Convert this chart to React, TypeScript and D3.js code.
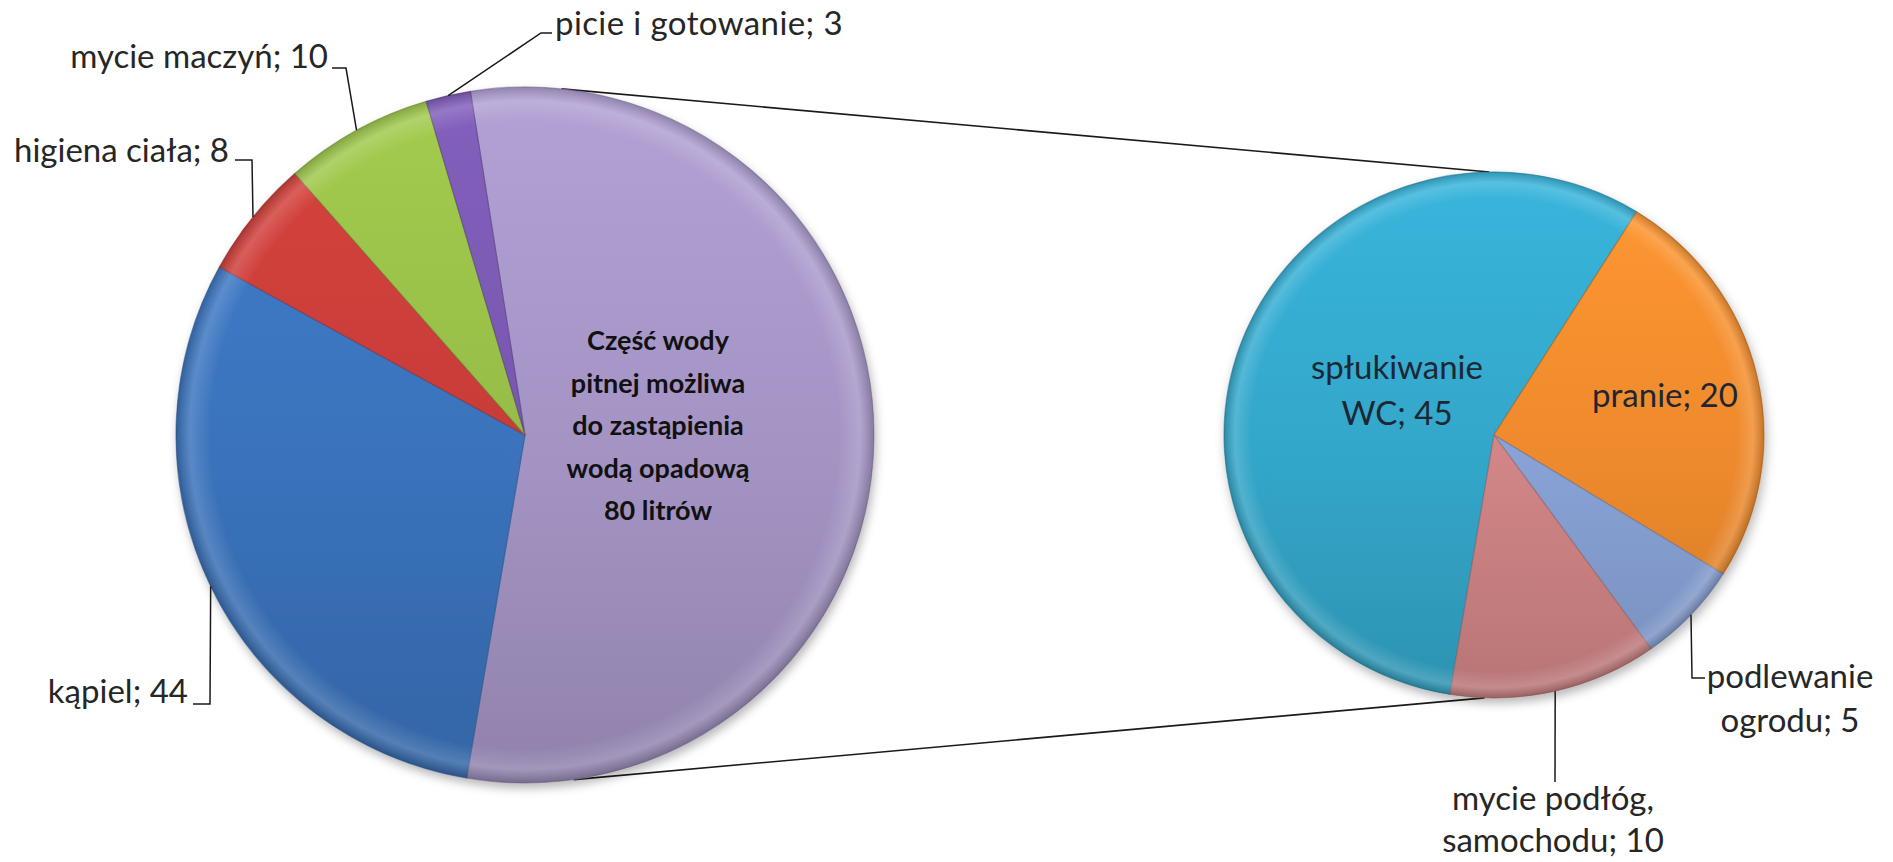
import React from "react";
import * as d3 from "d3";

// ---------- data ----------
const mainCategories = [
  "Część wody pitnej możliwa do zastąpienia wodą opadową",
  "kąpiel",
  "higiena ciała",
  "mycie maczyń",
  "picie i gotowanie",
];
const mainValues = [80, 44, 8, 10, 3];
const otherLabelLines = ["Część wody", "pitnej możliwa", "do zastąpienia", "wodą opadową", "80 litrów"];

const secondaryCategories = ["spłukiwanie\nWC", "pranie", "podlewanie\nogrodu", "mycie podłóg,\nsamochodu"];
const secondaryValues = [45, 20, 5, 10];

// ---------- styles ----------
const mainColors = ["#a393c3", "#3a72bb", "#c63c38", "#95bb47", "#7757ad"];
const secondaryColors = ["#33a6c9", "#ee8a2d", "#88a2d6", "#d18586"];

const W = 1893;
const H = 862;
const FONT = "Lato, 'Open Sans', sans-serif";
const deg = Math.PI / 180;

const leftPie = { cx: 525, cy: 435, rx: 349, ry: 348, start: -9 * deg };
const rightPie = { cx: 1494, cy: 435, rx: 270, ry: 263, start: -170.6 * deg };

type PieGeom = typeof leftPie;

function pointAt(p: PieGeom, a: number, k = 1): [number, number] {
  return [p.cx + p.rx * k * Math.sin(a), p.cy - p.ry * k * Math.cos(a)];
}

function makeArcs(values: number[], p: PieGeom) {
  return d3
    .pie<number>()
    .sort(null)
    .value((d) => d)
    .startAngle(p.start)
    .endAngle(p.start + 2 * Math.PI)(values);
}

export default function App() {
  const leftArcs = makeArcs(mainValues, leftPie);
  const rightArcs = makeArcs(secondaryValues, rightPie);
  const arcL = d3.arc<d3.PieArcDatum<number>>().innerRadius(0).outerRadius(leftPie.ry);
  const arcR = d3.arc<d3.PieArcDatum<number>>().innerRadius(0).outerRadius(rightPie.ry);
  const mid = (a: d3.PieArcDatum<number>) => (a.startAngle + a.endAngle) / 2;

  // connector lines (pie-of-pie)
  const cTopA = pointAt(leftPie, 6 * deg);
  const cTopB = pointAt(rightPie, -1 * deg);
  const cBotA = pointAt(leftPie, 172 * deg);
  const cBotB = pointAt(rightPie, 182 * deg);

  const line = d3.line();

  const pL = (i: number) => pointAt(leftPie, mid(leftArcs[i]));
  const pR = (i: number) => pointAt(rightPie, mid(rightArcs[i]));

  const mainLabel = (i: number) => `${mainCategories[i]}; ${mainValues[i]}`;
  const secLines = (i: number) => `${secondaryCategories[i]}; ${secondaryValues[i]}`.split("\n");

  const leaders: [number, number][][] = [
    [pL(1), [210, 704], [193, 704]], // kąpiel
    [pL(2), [252, 160], [235, 160]], // higiena
    [pL(3), [346, 68], [332, 68]], // mycie maczyń
    [pL(4), [541, 33], [552, 33]], // picie
    [pR(2), [1692, 678], [1705, 678]], // podlewanie
    [pR(3), [1555, 782]], // mycie podłóg
  ];

  const pieGroup = (
    arcs: d3.PieArcDatum<number>[],
    p: PieGeom,
    colors: string[],
    arcGen: d3.Arc<any, d3.PieArcDatum<number>>,
    id: string
  ) => (
    <g transform={`translate(${p.cx},${p.cy}) scale(${p.rx / p.ry},1)`} filter="url(#shadow)">
      <defs>
        {colors.map((c, i) => (
          <linearGradient
            key={i}
            id={`${id}-g${i}`}
            gradientUnits="userSpaceOnUse"
            x1={0}
            y1={-p.ry}
            x2={0}
            y2={p.ry}
          >
            <stop offset="0%" stopColor={d3.color(c)!.brighter(0.25).formatHex()} />
            <stop offset="55%" stopColor={c} />
            <stop offset="100%" stopColor={d3.color(c)!.darker(0.35).formatHex()} />
          </linearGradient>
        ))}
        <radialGradient id={`${id}-rim`} gradientUnits="userSpaceOnUse" cx={0} cy={0} r={p.ry}>
          <stop offset="0%" stopColor="#fff" stopOpacity={0} />
          <stop offset="90%" stopColor="#fff" stopOpacity={0} />
          <stop offset="96%" stopColor="#fff" stopOpacity={0.16} />
          <stop offset="100%" stopColor="#000" stopOpacity={0.18} />
        </radialGradient>
      </defs>
      {arcs.map((a, i) => (
        <path
          key={i}
          d={arcGen(a) || ""}
          fill={`url(#${id}-g${i})`}
          stroke={d3.color(colors[i])!.darker(0.9).formatHex()}
          strokeOpacity={0.55}
          strokeWidth={1.2}
          strokeLinejoin="round"
        />
      ))}
      <circle r={p.ry} fill={`url(#${id}-rim)`} pointerEvents="none" />
    </g>
  );

  const textColor = "#262626";

  return (
    <svg
      width={W}
      height={H}
      viewBox={`0 0 ${W} ${H}`}
      style={{ position: "absolute", left: 0, top: 0, display: "block", background: "#fff" }}
      fontFamily={FONT}
    >
      <defs>
        <filter id="shadow" x="-10%" y="-10%" width="120%" height="125%">
          <feDropShadow dx={2} dy={5} stdDeviation={5} floodColor="#000" floodOpacity={0.28} />
        </filter>
      </defs>
      <rect width={W} height={H} fill="#fff" />

      {/* connector lines */}
      <path d={line([cTopA, cTopB]) || ""} stroke="#1a1a1a" strokeWidth={1.6} fill="none" />
      <path d={line([cBotA, cBotB]) || ""} stroke="#1a1a1a" strokeWidth={1.6} fill="none" />

      {pieGroup(leftArcs, leftPie, mainColors, arcL, "L")}
      {pieGroup(rightArcs, rightPie, secondaryColors, arcR, "R")}

      {/* leader lines */}
      {leaders.map((pts, i) => (
        <path key={i} d={line(pts) || ""} stroke="#1a1a1a" strokeWidth={1.5} fill="none" />
      ))}

      {/* main pie outer labels */}
      <g fontSize={33} fill={textColor}>
        <text x={188} y={703} textAnchor="end">{mainLabel(1)}</text>
        <text x={229} y={162} textAnchor="end">{mainLabel(2)}</text>
        <text x={328} y={68} textAnchor="end">{mainLabel(3)}</text>
        <text x={555} y={35} textAnchor="start" letterSpacing={0.4}>{mainLabel(4)}</text>
      </g>

      {/* bold label of the "other" slice */}
      <g fontSize={27} fontWeight="bold" fill="#111" textAnchor="middle">
        {otherLabelLines.map((t, i) => (
          <text key={i} x={658} y={350 + i * 42.5}>{t}</text>
        ))}
      </g>

      {/* secondary pie labels */}
      <g fontSize={33} fill="#1d2733" textAnchor="middle">
        {secLines(0).map((t, i) => (
          <text key={i} x={1397} y={379 + i * 46}>{t}</text>
        ))}
        <text x={1665} y={407}>{secLines(1)[0]}</text>
      </g>
      <g fontSize={33} fill={textColor} textAnchor="middle">
        {secLines(2).map((t, i) => (
          <text key={i} x={1790} y={688 + i * 44}>{t}</text>
        ))}
        {secLines(3).map((t, i) => (
          <text key={i} x={1553} y={810 + i * 42}>{t}</text>
        ))}
      </g>
    </svg>
  );
}
